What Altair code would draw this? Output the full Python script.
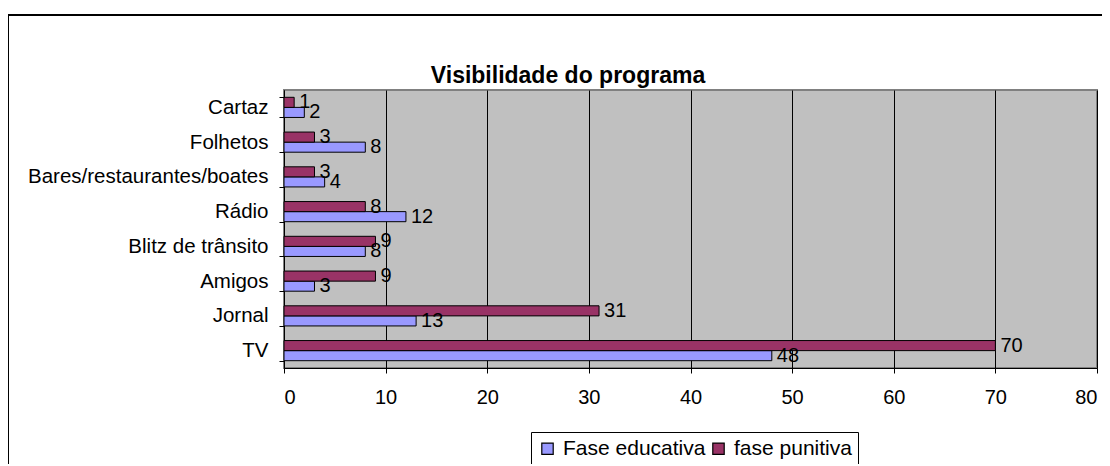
import altair as alt
import pandas as pd

categories = ["Cartaz", "Folhetos", "Bares/restaurantes/boates", "Rádio",
              "Blitz de trânsito", "Amigos", "Jornal", "TV"]
educativa = [2, 8, 4, 12, 8, 3, 13, 48]
punitiva = [1, 3, 3, 8, 9, 9, 31, 70]
series = ["Fase educativa", "fase punitiva"]
colors = ["#9999FF", "#993366"]
x_ticks = [0, 10, 20, 30, 40, 50, 60, 70, 80]
title_text = "Visibilidade do programa"

rows = []
for c, e, p in zip(categories, educativa, punitiva):
    rows.append({"categoria": c, "fase": series[0], "valor": e})
    rows.append({"categoria": c, "fase": series[1], "valor": p})
df = pd.DataFrame(rows)

FONT = "Liberation Sans"
W, H = 813, 278

y_enc = alt.Y(
    "categoria:N", sort=categories,
    scale=alt.Scale(paddingInner=0.42, paddingOuter=0.21),
    axis=alt.Axis(title=None, tickBand="extent", ticks=True, tickSize=5,
                  labelPadding=11, labelFontSize=20.5, labelFont=FONT,
                  labelColor="black", domainColor="black", tickColor="black",
                  grid=False, labelLimit=400),
)
x_enc = alt.X(
    "valor:Q",
    scale=alt.Scale(domain=[0, 80], nice=False),
    axis=alt.Axis(title=None, values=x_ticks, tickSize=5, labelPadding=14,
                  labelFontSize=20, labelFont=FONT, labelColor="black",
                  grid=True, gridColor="black", gridOpacity=1, gridWidth=1,
                  domainColor="black", tickColor="black"),
)
yoff = alt.YOffset("fase:N", sort=["fase punitiva", "Fase educativa"],
                   scale=alt.Scale(paddingInner=0, paddingOuter=0))
color = alt.Color(
    "fase:N",
    scale=alt.Scale(domain=series, range=colors),
    legend=alt.Legend(title=None, orient="none", legendX=247, legendY=342,
                      direction="horizontal", columns=2, symbolType="square",
                      symbolSize=130, symbolStrokeColor="black",
                      symbolStrokeWidth=1.2, symbolOpacity=1,
                      labelFontSize=21, labelFont=FONT, labelColor="black",
                      padding=6, strokeColor="black", fillColor="white",
                      columnPadding=2, labelOffset=5),
)

bars = alt.Chart(df).mark_bar(stroke="black", strokeWidth=1).encode(
    x=x_enc, y=y_enc, yOffset=yoff, color=color
)
labels = alt.Chart(df).mark_text(
    align="left", baseline="middle", dx=5, fontSize=20, font=FONT, color="black"
).encode(
    x="valor:Q",
    y=alt.Y("categoria:N", sort=categories),
    yOffset=yoff,
    text="valor:Q",
)
frame = alt.Chart(pd.DataFrame({"k": [0]})).mark_rect(
    fill="transparent", stroke="black", strokeWidth=2
).encode(
    x=alt.value(-276), x2=alt.value(W + 60),
    y=alt.value(-75), y2=alt.value(H + 200),
)
title = alt.Chart(pd.DataFrame({"t": [title_text]})).mark_text(
    align="center", baseline="middle", fontSize=23, font=FONT,
    fontWeight="bold", color="black"
).encode(
    x=alt.value(284), y=alt.value(-14), text="t:N"
)

chart = alt.layer(frame, bars, labels, title).properties(
    width=W, height=H,
    autosize=alt.AutoSizeParams(type="none"),
    padding={"left": 276, "top": 82, "right": 5, "bottom": 96},
).configure_view(
    fill="#C0C0C0", stroke="#808080", strokeWidth=2
)

chart.save("out.html", embed_options={"renderer": "svg", "actions": False})
